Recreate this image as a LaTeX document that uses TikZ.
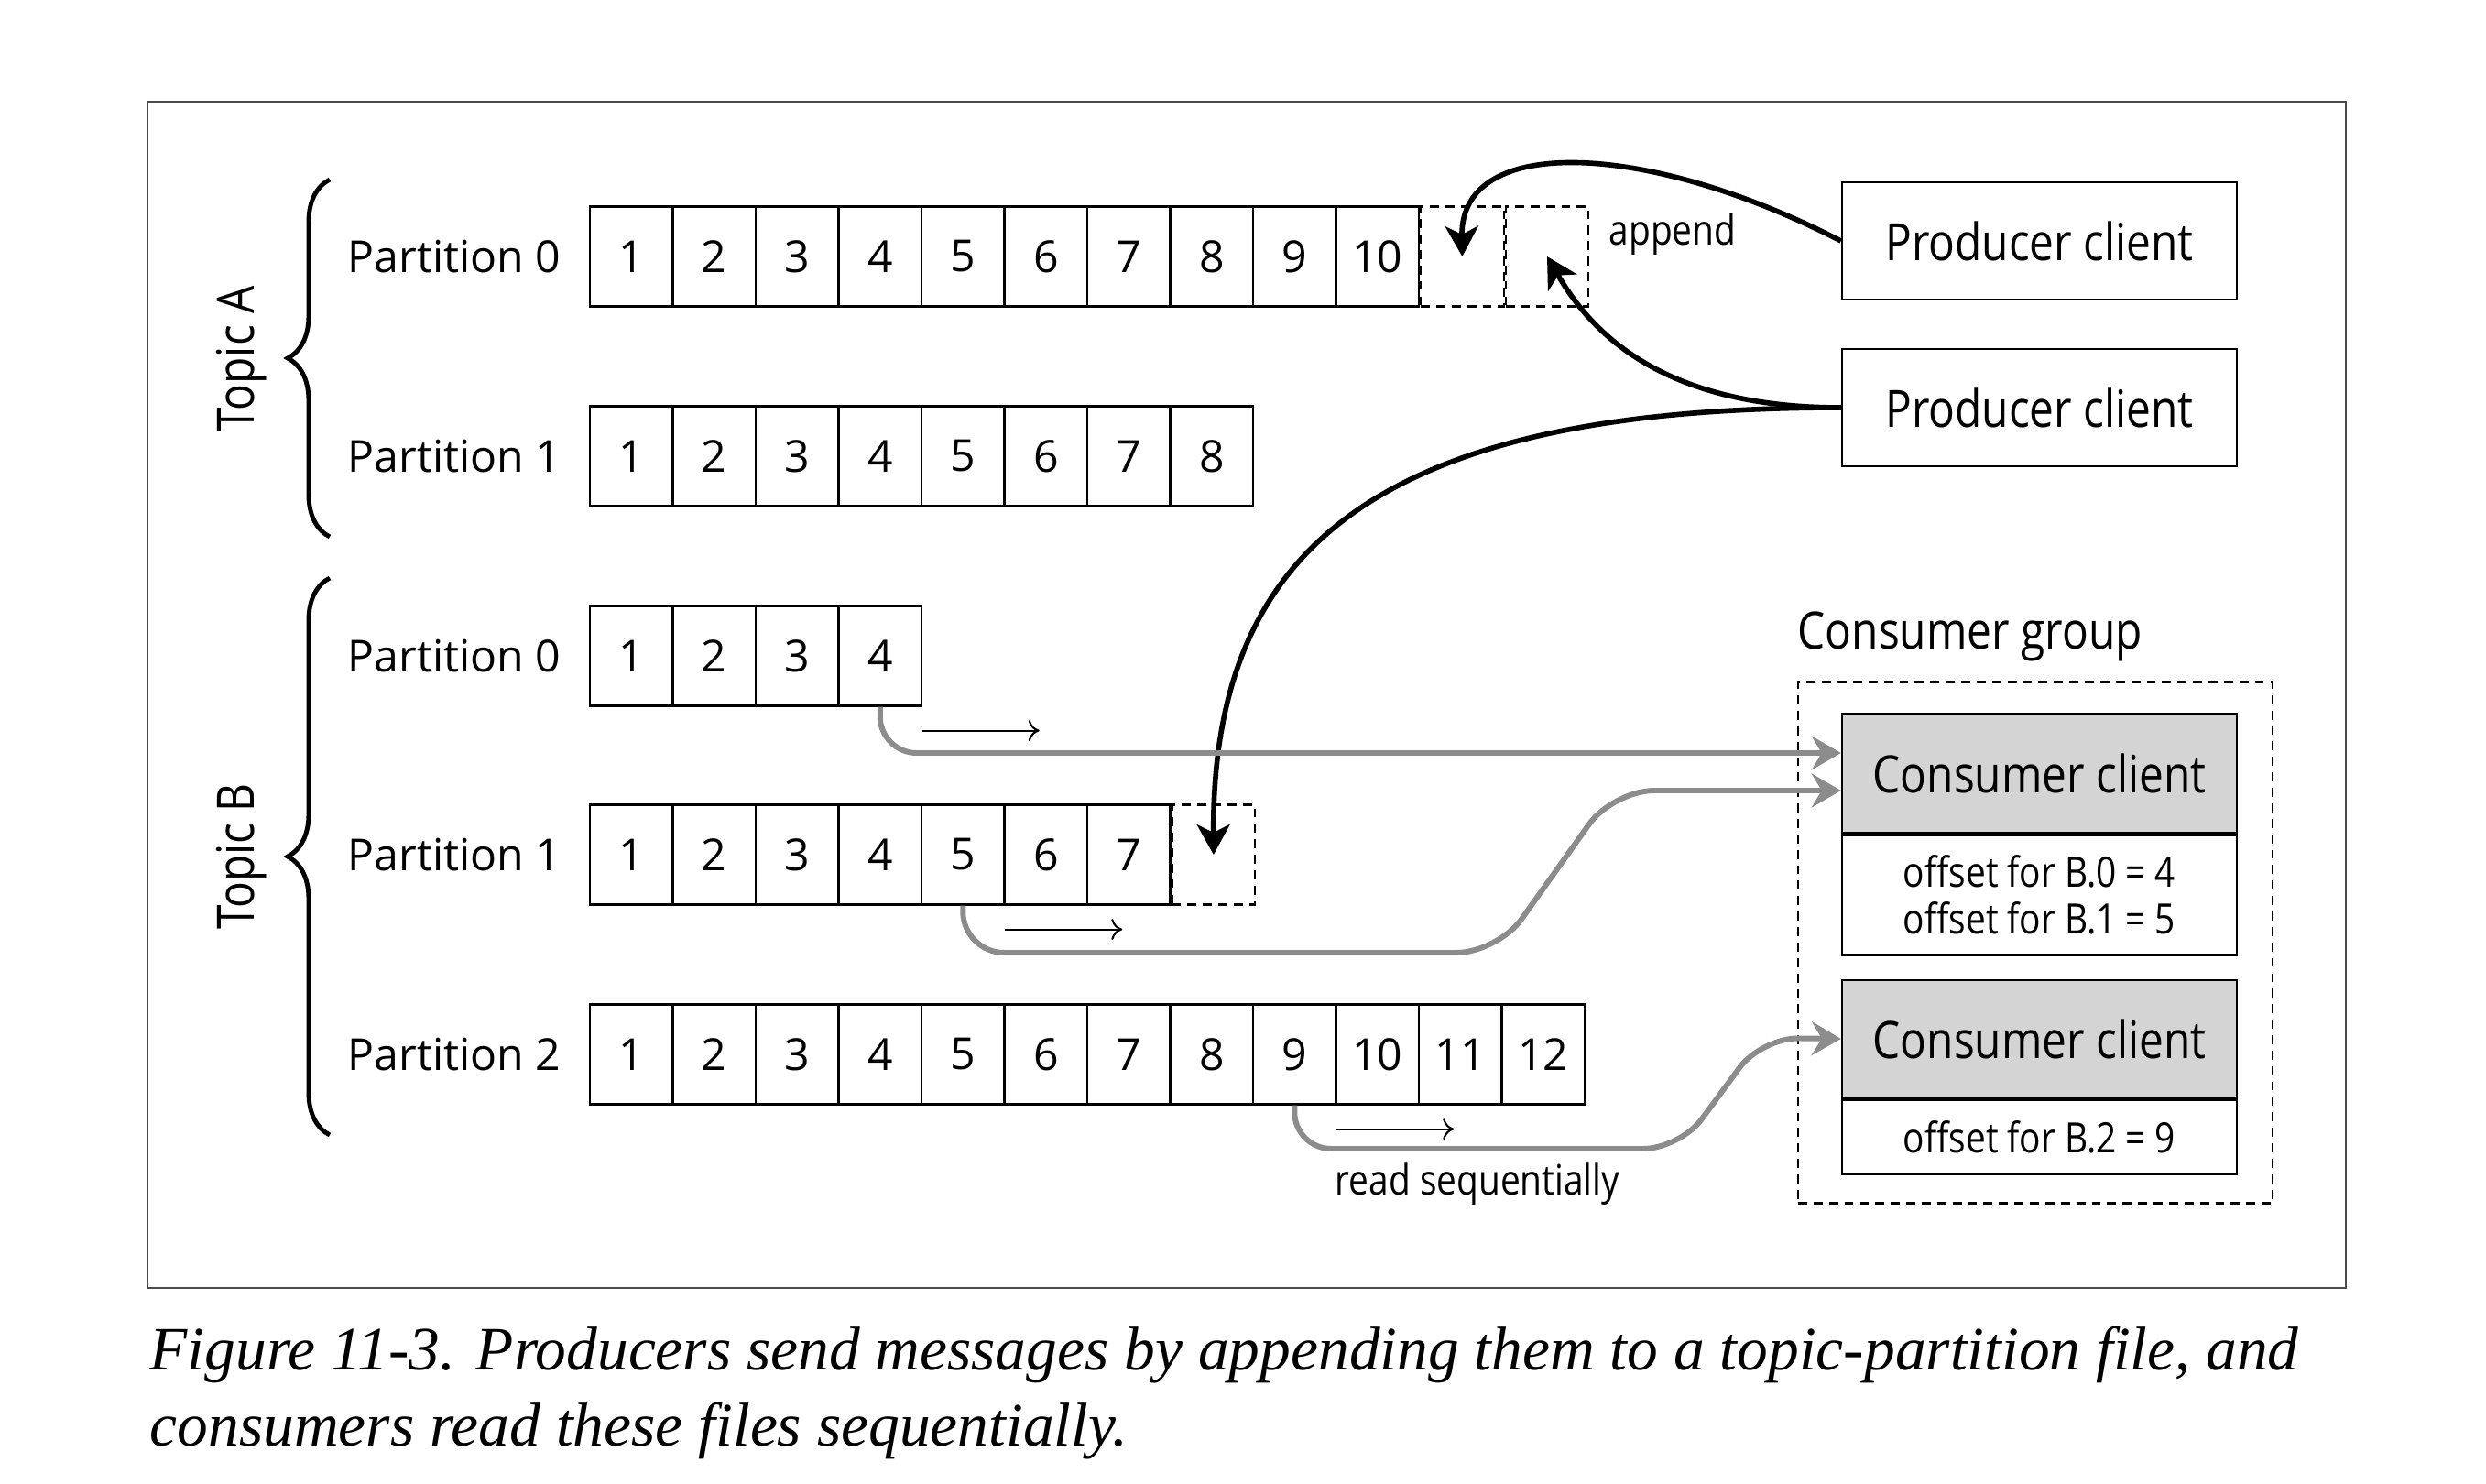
\documentclass[tikz,border=0pt]{standalone}
\usepackage{fontspec}
\setmainfont{Open Sans}
\newfontfamily\narrowsans[FakeStretch=0.85]{Open Sans}
\newfontfamily\captionserif{Liberation Serif}
\usetikzlibrary{arrows.meta,positioning,calc,decorations.pathreplacing}
\definecolor{framegray}{HTML}{4A4A4A}
\definecolor{headgray}{HTML}{D4D4D4}
\definecolor{readgray}{HTML}{8C8C8C}
\newcommand{\cellw}{0.905}
\newcommand{\partrow}[4]{%
 \node[partlabel] (#1-lab) at (6.13,#2) {#4};
 \foreach \i in {1,...,#3}
 \node[cellbox] (#1-\i) at ({6.44+(\i-0.5)*\cellw},#2) {\i};}
\tikzset{
 cellbox/.style={draw,line width=0.6pt,minimum width=0.905cm,minimum height=1.09cm,inner sep=0pt,
 font=\fontsize{13.7}{16}\selectfont},
 slotbox/.style={cellbox,dash pattern=on 2.8pt off 2pt},
 partlabel/.style={anchor=east,inner sep=0pt,font=\fontsize{13.7}{16}\selectfont},
 clientbox/.style={draw,line width=0.7pt,minimum width=4.31cm,minimum height=1.28cm,inner sep=0pt,
 font=\narrowsans\fontsize{16}{19}\selectfont},
 offsetbox/.style={draw,line width=0.7pt,minimum width=4.31cm,inner sep=0pt,align=center,
 font=\narrowsans\fontsize{13}{14.5}\selectfont},
 notetext/.style={inner sep=0pt,font=\narrowsans\fontsize{13}{15}\selectfont},
 bigtext/.style={inner sep=0pt,font=\narrowsans\fontsize{16}{19}\selectfont},
 captext/.style={inner sep=0pt,anchor=base west,font=\captionserif\itshape\fontsize{19.2}{23}\selectfont},
 sendarrow/.style={line width=1.6pt,-{Stealth[length=0.33cm,width=0.36cm,inset=0.09cm]}},
 readarrow/.style={draw=readgray,line width=1.7pt,-{Stealth[length=0.32cm,width=0.37cm,inset=0.11cm]}},
 seqarrow/.style={line width=0.6pt,-{To[length=0.12cm,width=0.23cm]}},
 topicbrace/.style={decorate,decoration={brace,amplitude=0.46cm},line width=1.4pt}
}

\begin{document}
\begin{tikzpicture}
\useasboundingbox (0,0) rectangle (27.14,-16.20);
\fill[white] (0,0) rectangle (27.14,-16.20);
\draw[framegray,line width=0.8pt] (1.61,-1.11) rectangle (25.61,-14.06);

\partrow{a0}{-2.80}{10}{Partition 0}
\partrow{a1}{-4.98}{8}{Partition 1}
\partrow{b0}{-7.16}{4}{Partition 0}
\partrow{b1}{-9.33}{7}{Partition 1}
\partrow{b2}{-11.51}{12}{Partition 2}
\node[slotbox,right=0pt of a0-10] (a0-11) {};
\node[slotbox,right=0pt of a0-11] (a0-12) {};
\node[slotbox,right=0pt of b1-7] (b1-8) {};

\draw[topicbrace] (3.60,-5.86) -- (3.60,-1.96);
\draw[topicbrace] (3.60,-12.39) -- (3.60,-6.31);
\node[bigtext,rotate=90] (topica) at (2.64,-3.92) {Topic A};
\node[bigtext,rotate=90] (topicb) at (2.64,-9.35) {Topic B};

\node[clientbox] (prod1) at (22.265,-2.63) {Producer client};
\node[clientbox] (prod2) at (22.265,-4.45) {Producer client};
\node[notetext] (appendlab) at (18.26,-2.56) {append};

\node[draw,dash pattern=on 2.8pt off 2pt,line width=0.6pt,minimum width=5.18cm,minimum height=5.69cm]
 (group) at (22.22,-10.29) {};
\node[bigtext,anchor=west] (grouplab) at (19.62,-6.95) {Consumer group};
\node[clientbox,fill=headgray,minimum height=1.30cm] (cons1) at (22.265,-8.44) {Consumer client};
\node[offsetbox,minimum height=1.31cm,below=0pt of cons1] (off1) {offset for B.0 = 4\\offset for B.1 = 5};
\node[clientbox,fill=headgray] (cons2) at (22.265,-11.34) {Consumer client};
\node[offsetbox,minimum height=0.81cm,below=0pt of cons2] (off2) {offset for B.2 = 9};
\node[notetext] (readlab) at (16.13,-12.93) {read sequentially};

\draw[sendarrow] (prod1.west) .. controls (18.0,-1.55) and (15.94,-1.45) .. (a0-11.center);
\draw[sendarrow] (prod2.west) .. controls (18.0,-4.45) and (17.3,-3.5) .. (a0-12.center);
\draw[sendarrow] (prod2.west) .. controls (15.0,-4.45) and (13.23,-6.0) .. (b1-8.center);

\draw[readarrow,rounded corners=0.4cm] (b0-4.south) |- ([yshift=0.22cm]cons1.west);
\draw[readarrow,rounded corners=0.45cm] (b1-5.south) |- (16.35,-10.40) -- (17.61,-8.63)
 -- ([yshift=-0.19cm]cons1.west);
\draw[readarrow,rounded corners=0.4cm] (b2-9.south) |- (18.34,-12.54) -- (19.23,-11.33) -- (cons2.west);
\draw[seqarrow] ([xshift=0.46cm,yshift=-0.26cm]b0-4.south) -- ++(1.28,0);
\draw[seqarrow] ([xshift=0.46cm,yshift=-0.26cm]b1-5.south) -- ++(1.28,0);
\draw[seqarrow] ([xshift=0.46cm,yshift=-0.26cm]b2-9.south) -- ++(1.28,0);

\node[captext] (cap1) at (1.63,-14.95)
 {Figure 11-3. Producers send messages by appending them to a topic-partition file, and};
\node[captext] (cap2) at (1.63,-15.78) {consumers read these files sequentially.};
\end{tikzpicture}
\end{document}
